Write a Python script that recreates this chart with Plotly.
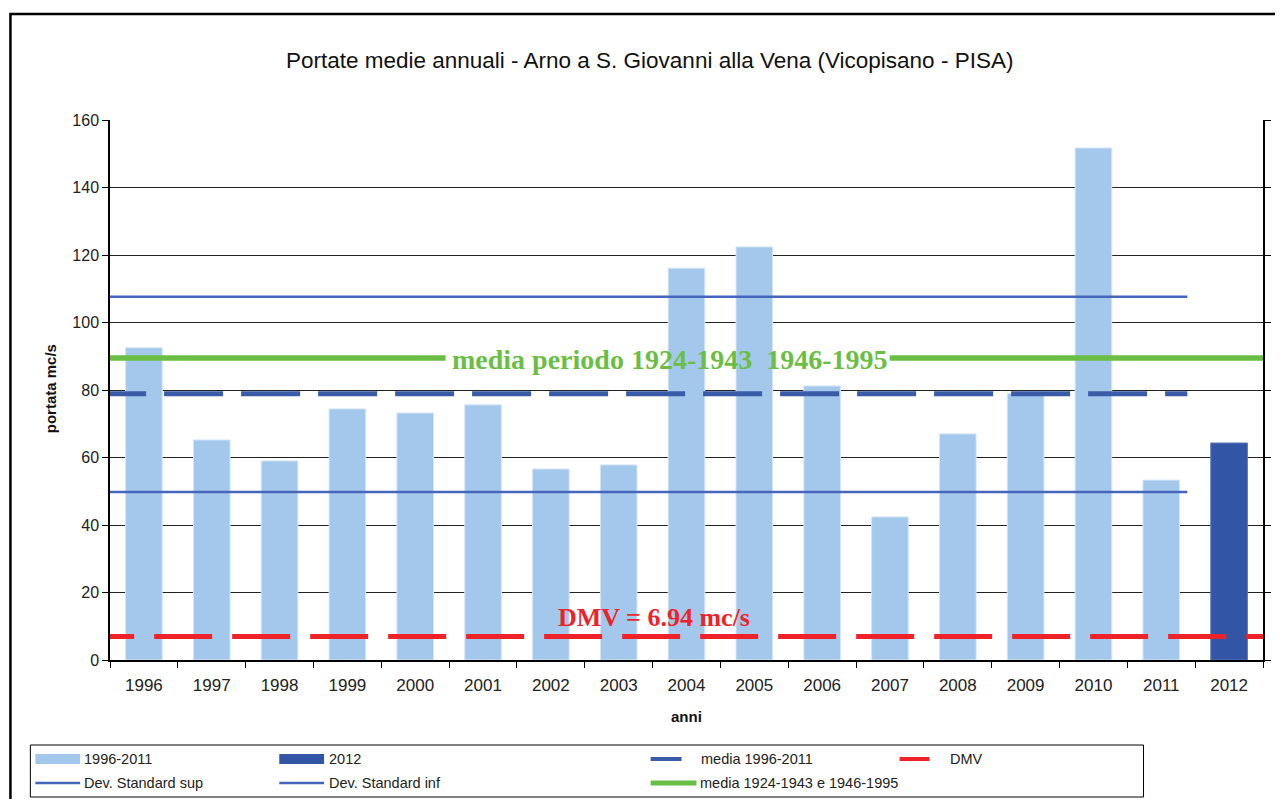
import plotly.graph_objects as go

# ---- data ----
anni = ["1996", "1997", "1998", "1999", "2000", "2001", "2002", "2003", "2004",
        "2005", "2006", "2007", "2008", "2009", "2010", "2011", "2012"]
portata_1996_2011 = [92.5, 65.2, 59.0, 74.4, 73.2, 75.6, 56.6, 57.8, 116.1,
                     122.4, 81.2, 42.4, 67.0, 79.0, 151.7, 53.3]
portata_2012 = [64.3]
media_1996_2011 = 78.9
dev_std_sup = 107.6
dev_std_inf = 49.8
media_storica = 89.5
dmv = 6.94

# ---- geometry (page has an 8px body margin) ----
OFF = 8
W, H = 1283 - OFF, 807 - 2 * OFF
L, R, T, B = 110, 1268, 120, 660          # plot area in viewport pixels
def px(x):
    return (x - L) / (R - L)
def py(y):
    return (B - y) / (B - T)
def cx(x):                                  # viewport pixel -> category data coordinate
    return (x - L) / ((R - L) / 17) - 0.5

fig = go.Figure()

fig.add_trace(go.Bar(x=anni[:16], y=portata_1996_2011, name="1996-2011",
                     marker=dict(color="#A4C8EB", line=dict(color="#D6E6F6", width=1)),
                     width=0.54))
fig.add_trace(go.Bar(x=anni[16:], y=portata_2012, name="2012",
                     marker=dict(color="#3355A5", line=dict(color="#5B78B8", width=1)),
                     width=0.54))

fig.add_trace(go.Scatter(x=[-0.5, cx(1192)], y=[dev_std_sup, dev_std_sup], xaxis="x2",
                         mode="lines", line=dict(color="#4566BA", width=2.5),
                         name="Dev. Standard sup"))
fig.add_trace(go.Scatter(x=[-0.5, cx(1192)], y=[dev_std_inf, dev_std_inf], xaxis="x2",
                         mode="lines", line=dict(color="#4566BA", width=2.5),
                         name="Dev. Standard inf"))
fig.add_trace(go.Scatter(x=[-0.5, cx(447), None, cx(893), 17],
                         y=[media_storica, media_storica, None, media_storica, media_storica],
                         xaxis="x2", mode="lines", line=dict(color="#6BBE45", width=5.5),
                         name="media 1924-1943 e 1946-1995"))
fig.add_trace(go.Scatter(x=[cx(87), cx(1192)], y=[media_1996_2011, media_1996_2011], xaxis="x2",
                         mode="lines", line=dict(color="#3A5CA8", width=5, dash="59px,18px"),
                         name="media 1996-2011"))
fig.add_trace(go.Scatter(x=[cx(76), 17.5], y=[dmv, dmv], xaxis="x2",
                         mode="lines", line=dict(color="#EE2229", width=5, dash="58px,20px"),
                         name="DMV"))

serif = "Liberation Serif, Times New Roman, serif"
sans = "Liberation Sans, Arial, sans-serif"
annotations = [
    dict(text="media periodo 1924-1943  1946-1995", x=cx(672.5), y=media_storica - 0.6,
         xref="x2", yref="y", showarrow=False,
         font=dict(family=serif, size=28, color="#6BBE45", weight="bold")),
    dict(text="DMV = 6.94 mc/s", x=cx(656.5), y=12.6, xref="x2", yref="y",
         showarrow=False,
         font=dict(family=serif, size=26, color="#EE2229", weight="bold")),
    dict(text="<b>portata mc/s</b>", textangle=-90, xref="paper", yref="paper",
         x=px(50), y=py(389), xanchor="center", yanchor="middle", showarrow=False,
         font=dict(family=sans, size=15, color="#111111")),
    dict(text="<b>anni</b>", xref="paper", yref="paper",
         x=px(689.5), y=py(716), xanchor="center", yanchor="middle", showarrow=False,
         font=dict(family=sans, size=15, color="#111111")),
]

shapes = [
    dict(type="rect", xref="paper", yref="paper", x0=px(10), x1=px(1320), y0=py(14), y1=py(850),
         line=dict(color="black", width=2.5), layer="below"),
    dict(type="rect", xref="paper", yref="paper", x0=px(30), x1=px(1148), y0=py(745), y1=py(797),
         line=dict(color="black", width=1)),
]

leg_font = dict(family=sans, size=14.5, color="#222222")
legend_items = [
    ("rect", 35, 80, 759, "#A4C8EB", 0, "1996-2011", 82),
    ("rect", 280, 325, 759, "#3355A5", 0, "2012", 328),
    ("line", 653, 684, 759, "#3A5CA8", 4, "media 1996-2011", 702),
    ("line", 903, 933, 759, "#EE2229", 4, "DMV", 952),
    ("line", 35, 80, 783, "#4566BA", 2.5, "Dev. Standard sup", 82),
    ("line", 280, 325, 783, "#4566BA", 2.5, "Dev. Standard inf", 328),
    ("line", 653, 699, 783, "#6BBE45", 5, "media 1924-1943 e 1946-1995", 701),
]
for kind, x0, x1, yy, col, w, txt, tx in legend_items:
    if kind == "rect":
        shapes.append(dict(type="rect", xref="paper", yref="paper", x0=px(x0), x1=px(x1),
                           y0=py(yy + 5), y1=py(yy - 5), fillcolor=col, line=dict(width=0)))
    else:
        shapes.append(dict(type="line", xref="paper", yref="paper", x0=px(x0), x1=px(x1),
                           y0=py(yy), y1=py(yy), line=dict(color=col, width=w)))
    annotations.append(dict(text=txt, xref="paper", yref="paper", x=px(tx), y=py(yy),
                            xanchor="left", yanchor="middle", showarrow=False, font=leg_font))

fig.update_layout(
    width=W, height=H,
    margin=dict(l=L - OFF, r=W - (R - OFF), t=T - OFF, b=H - (B - OFF)),
    paper_bgcolor="white", plot_bgcolor="white",
    showlegend=False,
    barmode="overlay",
    title=dict(text="Portate medie annuali - Arno a S. Giovanni alla Vena (Vicopisano - PISA)",
               x=px(652), xref="paper", xanchor="center", y=1 - (60 - OFF) / H, yanchor="middle",
               font=dict(family=sans, size=22.5, color="#111111")),
    font=dict(family=sans, size=16, color="#222222"),
    xaxis=dict(type="category", categoryorder="array", categoryarray=anni,
               range=[-0.5, 16.5], tickson="boundaries", ticks="outside", ticklen=6,
               tickcolor="black", showline=True, linecolor="black", linewidth=1.5,
               showgrid=False, tickfont=dict(size=17), ticklabelstandoff=9),
    xaxis2=dict(overlaying="x", range=[-0.5, 16.5], visible=False),
    yaxis=dict(range=[0, 160], dtick=20, ticks="outside", ticklen=6, tickcolor="black",
               showline=True, linecolor="black", linewidth=1.5, mirror="ticks",
               showgrid=True, gridcolor="#222222", gridwidth=1, zeroline=False,
               tickfont=dict(size=16)),
    annotations=annotations,
    shapes=shapes,
)

fig.write_html("out.html")
